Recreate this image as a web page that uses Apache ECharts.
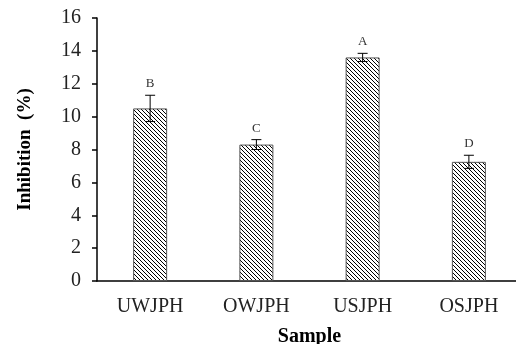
<!DOCTYPE html>
<html><head><meta charset="utf-8">
<script src="https://cdn.jsdelivr.net/npm/echarts@6/dist/echarts.min.js"></script>
<style>html,body{margin:0;padding:0;background:#fff}#c{width:516px;height:344px}</style>
</head><body><div id="c"></div>
<script>
var categories = ['UWJPH', 'OWJPH', 'USJPH', 'OSJPH'];
var values = [10.5, 8.3, 13.6, 7.25];
var errors = [0.8, 0.3, 0.25, 0.4];
var letters = ['B', 'C', 'A', 'D'];
var yTicks = [0, 2, 4, 6, 8, 10, 12, 14, 16];

var pc = document.createElement('canvas');
pc.width = 4; pc.height = 4;
var g = pc.getContext('2d');
g.fillStyle = '#fff'; g.fillRect(0,0,4,4);
g.strokeStyle = '#000'; g.lineWidth = 1;
g.beginPath(); g.moveTo(-1,-1); g.lineTo(5,5); g.stroke();
g.beginPath(); g.moveTo(-1,3); g.lineTo(1,5); g.stroke();
g.beginPath(); g.moveTo(3,-1); g.lineTo(5,1); g.stroke();

var font = '"Liberation Serif", "Times New Roman", serif';
var chart = echarts.init(document.getElementById('c'));
chart.setOption({
  animation: false,
  grid: { left: 97, top: 18, bottom: 63, right: -6, containLabel: false, outerBoundsMode: 'none' },
  xAxis: {
    type: 'category', data: categories,
    axisLine: { lineStyle: { color: '#000', width: 1.5 } },
    axisTick: { alignWithLabel: true, length: 4, lineStyle: { color: '#000', width: 1.5 } },
    axisLabel: { color: '#222', fontFamily: font, fontSize: 20, margin: 16 },
    name: 'Sample', nameLocation: 'middle', nameGap: 46,
    nameTextStyle: { fontFamily: font, fontSize: 20, fontWeight: 'bold', color: '#000' }
  },
  yAxis: {
    type: 'value', min: 0, max: 16, interval: 2,
    axisLine: { show: true, lineStyle: { color: '#000', width: 1.5 } },
    axisTick: { show: true, length: 5, lineStyle: { color: '#000', width: 1.5 } },
    splitLine: { show: false },
    axisLabel: { color: '#222', fontFamily: font, fontSize: 20, margin: 16,
      formatter: function (v) { return yTicks.indexOf(v) >= 0 ? String(v) : ''; } },
    name: 'Inhibition  (%)', nameLocation: 'middle', nameGap: 62, nameRotate: 90,
    nameTextStyle: { fontFamily: font, fontSize: 19, fontWeight: 'bold', color: '#000' }
  },
  series: [{
    type: 'bar', data: values, barWidth: 34,
    itemStyle: { color: { image: pc, repetition: 'repeat' }, borderColor: '#555', borderWidth: 1 }
  }, {
    type: 'custom',
    data: values.map(function (v, i) { return [i, v, errors[i]]; }),
    renderItem: function (params, api) {
      var i = api.value(0), v = api.value(1), e = api.value(2);
      var top = api.coord([i, v + e]);
      var bot = api.coord([i, v - e]);
      var x = top[0];
      return { type: 'group', children: [
        { type: 'line', shape: { x1: x, y1: top[1], x2: x, y2: bot[1] }, style: { stroke: '#000', lineWidth: 1 } },
        { type: 'line', shape: { x1: x - 5, y1: top[1], x2: x + 5, y2: top[1] }, style: { stroke: '#000', lineWidth: 1 } },
        { type: 'line', shape: { x1: x - 5, y1: bot[1], x2: x + 5, y2: bot[1] }, style: { stroke: '#000', lineWidth: 1 } },
        { type: 'text', style: { text: letters[i], x: x, y: top[1] - 5, textAlign: 'center', textVerticalAlign: 'bottom',
          font: '13px ' + font, fill: '#333' } }
      ] };
    },
    z: 10
  }]
});
</script></body></html>
